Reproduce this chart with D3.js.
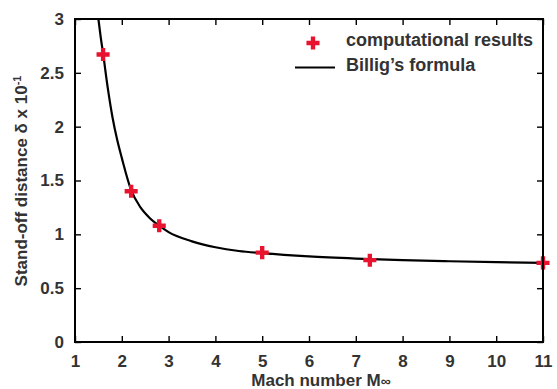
<!DOCTYPE html>
<html>
<head>
<meta charset="utf-8">
<script src="https://cdn.jsdelivr.net/npm/d3@7"></script>
<style>
  body { margin: 0; background: #fff; }
  svg text { font-family: "Liberation Sans", Arial, sans-serif; font-weight: bold; fill: #333; }
</style>
</head>
<body>
<div id="chart"></div>
<script>
// computational results (Mach number, stand-off distance x 10^-1)
var machPts = [1.6, 2.2, 2.8, 5.0, 7.3, 11.0];
var deltaPts = [2.67, 1.40, 1.08, 0.83, 0.76, 0.735];

// Billig's formula curve
var machCurve = [1.50, 1.55, 1.60, 1.70, 1.80, 1.90, 2.00, 2.20, 2.40, 2.60, 2.80, 3.00, 3.50, 4.00, 4.50, 5.00, 6.00, 7.00, 8.00, 9.00, 10.00, 11.00];
var deltaCurve = [3.00, 2.83, 2.68, 2.36, 2.09, 1.88, 1.71, 1.41, 1.25, 1.15, 1.08, 1.02, 0.935, 0.88, 0.845, 0.825, 0.795, 0.775, 0.76, 0.75, 0.742, 0.735];

var xTicks = [1, 2, 3, 4, 5, 6, 7, 8, 9, 10, 11];
var yTicks = [0, 0.5, 1, 1.5, 2, 2.5, 3];

var svg = d3.select('#chart').append('svg')
    .attr('width', 557)
    .attr('height', 389);

var x = d3.scaleLinear().domain([1, 11]).range([75, 543]);
var y = d3.scaleLinear().domain([0, 3]).range([342, 19]);

var red = '#e8132f';

// data
svg.append('path')
    .datum(machCurve.map((m, i) => [m, deltaCurve[i]]))
    .attr('fill', 'none')
    .attr('stroke', '#000')
    .attr('stroke-width', 2.2)
    .attr('d', d3.line().x(d => x(d[0])).y(d => y(d[1])).curve(d3.curveMonotoneX));

var cross = d3.symbol().type(d3.symbolCross).size(95);

svg.selectAll('.pt')
    .data(machPts)
    .enter()
    .append('path')
    .attr('class', 'pt')
    .attr('transform', (d, i) => 'translate(' + x(d) + ',' + y(deltaPts[i]) + ')')
    .attr('d', cross)
    .attr('fill', red);

// axes (ticks pointing inward on all four sides)
var ax = svg.append('g').attr('class', 'axes');

function styleAxis(g) {
    g.select('.domain').remove();
    g.selectAll('line').attr('stroke', '#000').attr('stroke-width', 1.4);
    g.selectAll('text').style('font-size', '17px');
}

ax.append('g')
    .attr('transform', 'translate(0,342)')
    .call(d3.axisBottom(x).tickValues(xTicks).tickSize(-6).tickPadding(13).tickFormat(d3.format('d')))
    .call(styleAxis);

ax.append('g')
    .attr('transform', 'translate(0,19)')
    .call(d3.axisTop(x).tickValues(xTicks).tickSize(-6).tickFormat(''))
    .call(styleAxis);

ax.append('g')
    .attr('transform', 'translate(75,0)')
    .call(d3.axisLeft(y).tickValues(yTicks).tickSize(-6).tickPadding(11).tickFormat(d => d))
    .call(styleAxis);

ax.append('g')
    .attr('transform', 'translate(543,0)')
    .call(d3.axisRight(y).tickValues(yTicks).tickSize(-6).tickFormat(''))
    .call(styleAxis);

svg.selectAll('.axes text').attr('fill', '#333');

// frame
svg.append('rect')
    .attr('x', 75)
    .attr('y', 19)
    .attr('width', 468)
    .attr('height', 323)
    .attr('fill', 'none')
    .attr('stroke', '#000')
    .attr('stroke-width', 2);

// axis titles
var xt = svg.append('text')
    .attr('x', 321)
    .attr('y', 386)
    .attr('text-anchor', 'middle')
    .style('font-size', '17px');
xt.append('tspan').text('Mach number M');
xt.append('tspan').style('font-size', '14px').text('\u221e');

var yt = svg.append('text')
    .attr('transform', 'translate(27,181) rotate(-90)')
    .attr('text-anchor', 'middle')
    .style('font-size', '17px');
yt.append('tspan').text('Stand-off distance \u03b4 x 10');
yt.append('tspan').attr('dy', -6).style('font-size', '11px').text('-1');

// legend
svg.append('path')
    .attr('transform', 'translate(313,43)')
    .attr('d', cross)
    .attr('fill', red);

svg.append('text')
    .attr('x', 346)
    .attr('y', 46)
    .style('font-size', '18px')
    .text('computational results');

svg.append('line')
    .attr('x1', 295)
    .attr('x2', 335)
    .attr('y1', 67.5)
    .attr('y2', 67.5)
    .attr('stroke', '#000')
    .attr('stroke-width', 2.2);

svg.append('text')
    .attr('x', 346)
    .attr('y', 71)
    .style('font-size', '18px')
    .text('Billig\u2019s formula');
</script>
</body>
</html>
